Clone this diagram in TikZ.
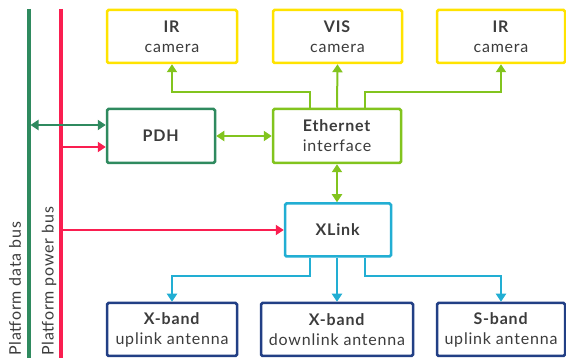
\documentclass[tikz,border=0pt]{standalone}
\usepackage{fontspec}
\setmainfont[LetterSpace=5]{Lato}
\usetikzlibrary{arrows.meta}

\definecolor{camyellow}{HTML}{FFE300}
\definecolor{ethgreen}{HTML}{82C41E}
\definecolor{pdhgreen}{HTML}{2F8A5F}
\definecolor{powred}{HTML}{FA1E50}
\definecolor{linkcyan}{HTML}{22AED3}
\definecolor{antblue}{HTML}{223F85}
\definecolor{txtgray}{HTML}{3C3C3C}

\tikzset{
  box/.style={draw,line width=2.5pt,rounded corners=1.5pt,fill=white,text=txtgray,
    align=center,minimum height=53pt,inner sep=0pt,
    font=\fontsize{16}{20}\selectfont},
  link/.style={line width=2pt,-{Triangle[length=8pt,width=10pt]}},
  duplex/.style={line width=2pt,{Triangle[length=8pt,width=10pt]}-{Triangle[length=8pt,width=10pt]}},
  bus/.style={line width=3.5pt},
  buslabel/.style={rotate=90,anchor=west,inner sep=0pt,text=txtgray,
    font=\fontsize{16}{16}\selectfont}
}

\begin{document}
\begin{tikzpicture}[x=1pt,y=-1pt]
\useasboundingbox (0,0) rectangle (566,358);

\coordinate (dtop) at (29,9);
\coordinate (dbot) at (29,360);
\coordinate (ptop) at (61,9);
\coordinate (pbot) at (61,360);

\node[box,draw=camyellow,minimum width=130pt] (irL) at (172,36.5) {\textbf{IR}\\camera};
\node[box,draw=camyellow,minimum width=129pt] (vis) at (337.5,36.5) {\textbf{VIS}\\camera};
\node[box,draw=camyellow,minimum width=128pt] (irR) at (501,36.5) {\textbf{IR}\\camera};

\node[box,draw=pdhgreen,minimum width=108pt,minimum height=54pt] (pdh) at (161,136) {\textbf{PDH}};
\node[box,draw=ethgreen,minimum width=128pt,minimum height=54pt] (eth) at (337,136) {\textbf{Ethernet}\\interface};

\node[box,draw=linkcyan,minimum width=106pt] (xlink) at (338,230) {\textbf{XLink}};

\node[box,draw=antblue,minimum width=130pt] (xup) at (172,329.5) {\textbf{X-band}\\uplink antenna};
\node[box,draw=antblue,minimum width=152pt] (xdown) at (337,329.5) {\textbf{X-band}\\downlink antenna};
\node[box,draw=antblue,minimum width=128pt] (sband) at (501,329.5) {\textbf{S-band}\\uplink antenna};

\draw[bus,pdhgreen] (dtop) -- (dbot);
\draw[bus,powred] (ptop) -- (pbot);
\node[buslabel] (datalbl) at (15,356) {Platform data bus};
\node[buslabel] (powlbl) at (49,356) {Platform power bus};

\coordinate (pdhD) at ([yshift=11pt]pdh.west);
\coordinate (pdhP) at ([yshift=-11pt]pdh.west);
\draw[duplex,pdhgreen,shorten <=1.5pt] (dtop |- pdhD) -- (pdhD);
\draw[link,powred] (ptop |- pdhP) -- (pdhP);
\draw[link,powred] (ptop |- xlink.west) -- (xlink.west);

\draw[duplex,ethgreen] (pdh) -- (eth);
\draw[link,ethgreen] ([xshift=-27pt]eth.north) -- ++(0,-16) -| (irL.south);
\draw[link,ethgreen] (eth.north) -- (vis.south);
\draw[link,ethgreen] ([xshift=28pt]eth.north) -- ++(0,-16) -| (irR.south);
\draw[duplex,ethgreen] (eth.south) -- (eth.south |- xlink.north);

\draw[link,linkcyan] ([xshift=-28pt]xlink.south) -- ++(0,18) -| (xup.north);
\draw[link,linkcyan] (xlink.south -| xdown.north) -- (xdown.north);
\draw[link,linkcyan] ([xshift=27pt]xlink.south) -- ++(0,18) -| (sband.north);
\end{tikzpicture}
\end{document}
